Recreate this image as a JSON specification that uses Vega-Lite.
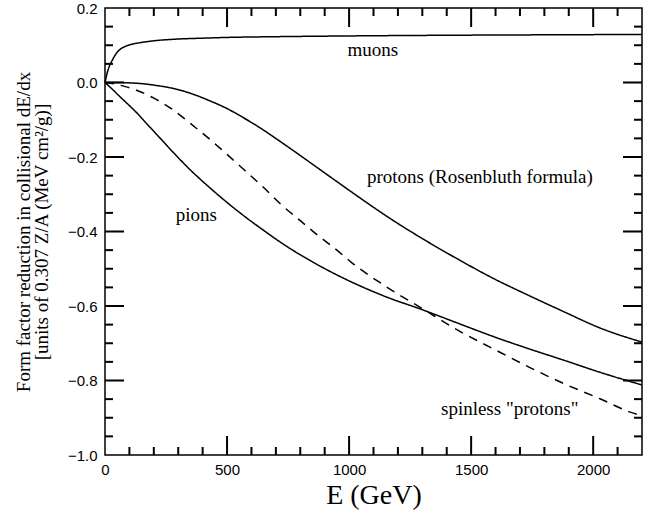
{
  "$schema": "https://vega.github.io/schema/vega-lite/v6.json",
  "width": 537,
  "height": 447,
  "autosize": {"type": "none"},
  "padding": {"left": 105, "top": 8, "right": 19, "bottom": 63},
  "background": "white",
  "config": {
    "view": {"stroke": "black", "strokeWidth": 1.5},
    "axis": {
      "domain": false,
      "grid": false,
      "ticks": false,
      "labelColor": "black",
      "titleColor": "black",
      "labelOverlap": false,
      "labelFlush": false,
      "labelBound": false
    }
  },
  "datasets": {
    "curves": [
      {"series": "muons", "E": 0, "v": 0},
      {"series": "muons", "E": 5, "v": 0.015},
      {"series": "muons", "E": 10, "v": 0.028},
      {"series": "muons", "E": 20, "v": 0.047},
      {"series": "muons", "E": 30, "v": 0.06},
      {"series": "muons", "E": 45, "v": 0.077},
      {"series": "muons", "E": 60, "v": 0.088},
      {"series": "muons", "E": 80, "v": 0.096},
      {"series": "muons", "E": 105, "v": 0.102},
      {"series": "muons", "E": 135, "v": 0.106},
      {"series": "muons", "E": 165, "v": 0.109},
      {"series": "muons", "E": 200, "v": 0.112},
      {"series": "muons", "E": 280, "v": 0.116},
      {"series": "muons", "E": 400, "v": 0.119},
      {"series": "muons", "E": 500, "v": 0.121},
      {"series": "muons", "E": 700, "v": 0.123},
      {"series": "muons", "E": 1000, "v": 0.125},
      {"series": "muons", "E": 1450, "v": 0.127},
      {"series": "muons", "E": 1800, "v": 0.128},
      {"series": "muons", "E": 2200, "v": 0.129},
      {"series": "protons", "E": 0, "v": 0},
      {"series": "protons", "E": 50, "v": 0},
      {"series": "protons", "E": 100, "v": -0.001},
      {"series": "protons", "E": 150, "v": -0.003},
      {"series": "protons", "E": 200, "v": -0.007},
      {"series": "protons", "E": 280, "v": -0.016},
      {"series": "protons", "E": 350, "v": -0.029},
      {"series": "protons", "E": 425, "v": -0.048},
      {"series": "protons", "E": 500, "v": -0.07},
      {"series": "protons", "E": 571, "v": -0.096},
      {"series": "protons", "E": 650, "v": -0.128},
      {"series": "protons", "E": 717, "v": -0.158},
      {"series": "protons", "E": 800, "v": -0.196},
      {"series": "protons", "E": 862, "v": -0.225},
      {"series": "protons", "E": 950, "v": -0.266},
      {"series": "protons", "E": 1008, "v": -0.293},
      {"series": "protons", "E": 1100, "v": -0.335},
      {"series": "protons", "E": 1154, "v": -0.359},
      {"series": "protons", "E": 1300, "v": -0.419},
      {"series": "protons", "E": 1445, "v": -0.474},
      {"series": "protons", "E": 1591, "v": -0.526},
      {"series": "protons", "E": 1737, "v": -0.572},
      {"series": "protons", "E": 1882, "v": -0.616},
      {"series": "protons", "E": 2028, "v": -0.659},
      {"series": "protons", "E": 2200, "v": -0.697},
      {"series": "pions", "E": 0, "v": 0},
      {"series": "pions", "E": 30, "v": -0.018},
      {"series": "pions", "E": 61, "v": -0.038},
      {"series": "pions", "E": 100, "v": -0.062},
      {"series": "pions", "E": 134, "v": -0.084},
      {"series": "pions", "E": 170, "v": -0.11},
      {"series": "pions", "E": 207, "v": -0.136},
      {"series": "pions", "E": 280, "v": -0.188},
      {"series": "pions", "E": 350, "v": -0.235},
      {"series": "pions", "E": 425, "v": -0.28},
      {"series": "pions", "E": 500, "v": -0.322},
      {"series": "pions", "E": 571, "v": -0.359},
      {"series": "pions", "E": 650, "v": -0.397},
      {"series": "pions", "E": 717, "v": -0.428},
      {"series": "pions", "E": 862, "v": -0.486},
      {"series": "pions", "E": 1008, "v": -0.535},
      {"series": "pions", "E": 1154, "v": -0.576},
      {"series": "pions", "E": 1300, "v": -0.61},
      {"series": "pions", "E": 1445, "v": -0.646},
      {"series": "pions", "E": 1591, "v": -0.682},
      {"series": "pions", "E": 1737, "v": -0.715},
      {"series": "pions", "E": 1882, "v": -0.746},
      {"series": "pions", "E": 2028, "v": -0.778},
      {"series": "pions", "E": 2200, "v": -0.812},
      {"series": "spinless", "E": 0, "v": 0},
      {"series": "spinless", "E": 40, "v": -0.004},
      {"series": "spinless", "E": 83, "v": -0.011},
      {"series": "spinless", "E": 134, "v": -0.022},
      {"series": "spinless", "E": 200, "v": -0.042},
      {"series": "spinless", "E": 280, "v": -0.074},
      {"series": "spinless", "E": 350, "v": -0.11},
      {"series": "spinless", "E": 425, "v": -0.15},
      {"series": "spinless", "E": 500, "v": -0.193},
      {"series": "spinless", "E": 571, "v": -0.235},
      {"series": "spinless", "E": 650, "v": -0.282},
      {"series": "spinless", "E": 717, "v": -0.325},
      {"series": "spinless", "E": 800, "v": -0.371},
      {"series": "spinless", "E": 862, "v": -0.405},
      {"series": "spinless", "E": 950, "v": -0.45},
      {"series": "spinless", "E": 1008, "v": -0.482},
      {"series": "spinless", "E": 1154, "v": -0.549},
      {"series": "spinless", "E": 1300, "v": -0.607},
      {"series": "spinless", "E": 1445, "v": -0.665},
      {"series": "spinless", "E": 1591, "v": -0.715},
      {"series": "spinless", "E": 1737, "v": -0.764},
      {"series": "spinless", "E": 1882, "v": -0.809},
      {"series": "spinless", "E": 2028, "v": -0.849},
      {"series": "spinless", "E": 2152, "v": -0.885},
      {"series": "spinless", "E": 2200, "v": -0.895}
    ],
    "labels": [
      {"label": "muons", "E": 1097, "v": 0.086},
      {"label": "pions", "E": 374, "v": -0.356},
      {"label": "protons (Rosenbluth formula)", "E": 1536, "v": -0.253},
      {"label": "spinless \"protons\"", "E": 1658, "v": -0.876}
    ],
    "xticks": [
      {"E": 100, "kind": "minor"}, {"E": 200, "kind": "minor"}, {"E": 300, "kind": "minor"}, {"E": 400, "kind": "minor"},
      {"E": 500, "kind": "major"},
      {"E": 600, "kind": "minor"}, {"E": 700, "kind": "minor"}, {"E": 800, "kind": "minor"}, {"E": 900, "kind": "minor"},
      {"E": 1000, "kind": "major"},
      {"E": 1100, "kind": "minor"}, {"E": 1200, "kind": "minor"}, {"E": 1300, "kind": "minor"}, {"E": 1400, "kind": "minor"},
      {"E": 1500, "kind": "major"},
      {"E": 1600, "kind": "minor"}, {"E": 1700, "kind": "minor"}, {"E": 1800, "kind": "minor"}, {"E": 1900, "kind": "minor"},
      {"E": 2000, "kind": "major"},
      {"E": 2100, "kind": "minor"}
    ],
    "yticks": [
      {"v": -0.95, "kind": "minor"}, {"v": -0.9, "kind": "minor"}, {"v": -0.85, "kind": "minor"},
      {"v": -0.8, "kind": "major"},
      {"v": -0.75, "kind": "minor"}, {"v": -0.7, "kind": "minor"}, {"v": -0.65, "kind": "minor"},
      {"v": -0.6, "kind": "major"},
      {"v": -0.55, "kind": "minor"}, {"v": -0.5, "kind": "minor"}, {"v": -0.45, "kind": "minor"},
      {"v": -0.4, "kind": "major"},
      {"v": -0.35, "kind": "minor"}, {"v": -0.3, "kind": "minor"}, {"v": -0.25, "kind": "minor"},
      {"v": -0.2, "kind": "major"},
      {"v": -0.15, "kind": "minor"}, {"v": -0.1, "kind": "minor"}, {"v": -0.05, "kind": "minor"},
      {"v": 0, "kind": "major"},
      {"v": 0.05, "kind": "minor"}, {"v": 0.1, "kind": "minor"}, {"v": 0.15, "kind": "minor"}
    ]
  },
  "layer": [
    {
      "data": {"name": "curves"},
      "mark": {"type": "line", "color": "black", "strokeWidth": 1.5, "interpolate": "monotone"},
      "encoding": {
        "x": {
          "field": "E", "type": "quantitative",
          "scale": {"domain": [0, 2200], "nice": false, "zero": false},
          "axis": {
            "orient": "bottom",
            "values": [0, 500, 1000, 1500, 2000],
            "format": "d",
            "labelPadding": 7,
            "labelFont": "Liberation Sans",
            "labelFontSize": 15,
            "title": "E (GeV)",
            "titleFont": "Liberation Serif",
            "titleFontSize": 28,
            "titleFontWeight": "normal",
            "titleBaseline": "alphabetic",
            "titleY": 48
          }
        },
        "y": {
          "field": "v", "type": "quantitative",
          "scale": {"domain": [-1, 0.2], "nice": false, "zero": false},
          "axis": {
            "orient": "left",
            "values": [-1, -0.8, -0.6, -0.4, -0.2, 0, 0.2],
            "format": ".1f",
            "labelPadding": 8,
            "labelFont": "Liberation Sans",
            "labelFontSize": 15,
            "title": ["Form factor reduction in collisional dE/dx", "[units of 0.307 Z/A (MeV cm²/g)]"],
            "titleFont": "Liberation Serif",
            "titleFontSize": 19,
            "titleFontWeight": "normal",
            "titleAngle": -90,
            "titleAlign": "center",
            "titleBaseline": "top",
            "titleLineHeight": 18,
            "titleX": -91,
            "titleY": 223.5
          }
        },
        "detail": {"field": "series"},
        "strokeDash": {
          "field": "series", "type": "nominal",
          "scale": {"domain": ["muons", "protons", "pions", "spinless"], "range": [[1, 0], [1, 0], [1, 0], [9, 7]]},
          "legend": null
        }
      }
    },
    {
      "data": {"name": "labels"},
      "mark": {"type": "text", "font": "Liberation Serif", "fontSize": 19, "color": "black", "align": "center", "baseline": "middle"},
      "encoding": {
        "x": {"field": "E", "type": "quantitative"},
        "y": {"field": "v", "type": "quantitative"},
        "text": {"field": "label"}
      }
    },
    {
      "data": {"name": "xticks"},
      "mark": {"type": "tick", "orient": "vertical", "color": "black", "opacity": 1, "thickness": 2, "clip": true},
      "encoding": {
        "x": {"field": "E", "type": "quantitative"},
        "y": {"datum": -1},
        "size": {"field": "kind", "type": "nominal", "scale": {"domain": ["major", "minor"], "range": [38, 16]}, "legend": null}
      }
    },
    {
      "data": {"name": "xticks"},
      "mark": {"type": "tick", "orient": "vertical", "color": "black", "opacity": 1, "thickness": 2, "clip": true},
      "encoding": {
        "x": {"field": "E", "type": "quantitative"},
        "y": {"datum": 0.2},
        "size": {"field": "kind", "type": "nominal", "scale": {"domain": ["major", "minor"], "range": [38, 16]}, "legend": null}
      }
    },
    {
      "data": {"name": "yticks"},
      "mark": {"type": "tick", "orient": "horizontal", "color": "black", "opacity": 1, "thickness": 2, "clip": true},
      "encoding": {
        "y": {"field": "v", "type": "quantitative"},
        "x": {"datum": 0},
        "size": {"field": "kind", "type": "nominal", "scale": {"domain": ["major", "minor"], "range": [38, 16]}, "legend": null}
      }
    },
    {
      "data": {"name": "yticks"},
      "mark": {"type": "tick", "orient": "horizontal", "color": "black", "opacity": 1, "thickness": 2, "clip": true},
      "encoding": {
        "y": {"field": "v", "type": "quantitative"},
        "x": {"datum": 2200},
        "size": {"field": "kind", "type": "nominal", "scale": {"domain": ["major", "minor"], "range": [38, 16]}, "legend": null}
      }
    }
  ]
}
